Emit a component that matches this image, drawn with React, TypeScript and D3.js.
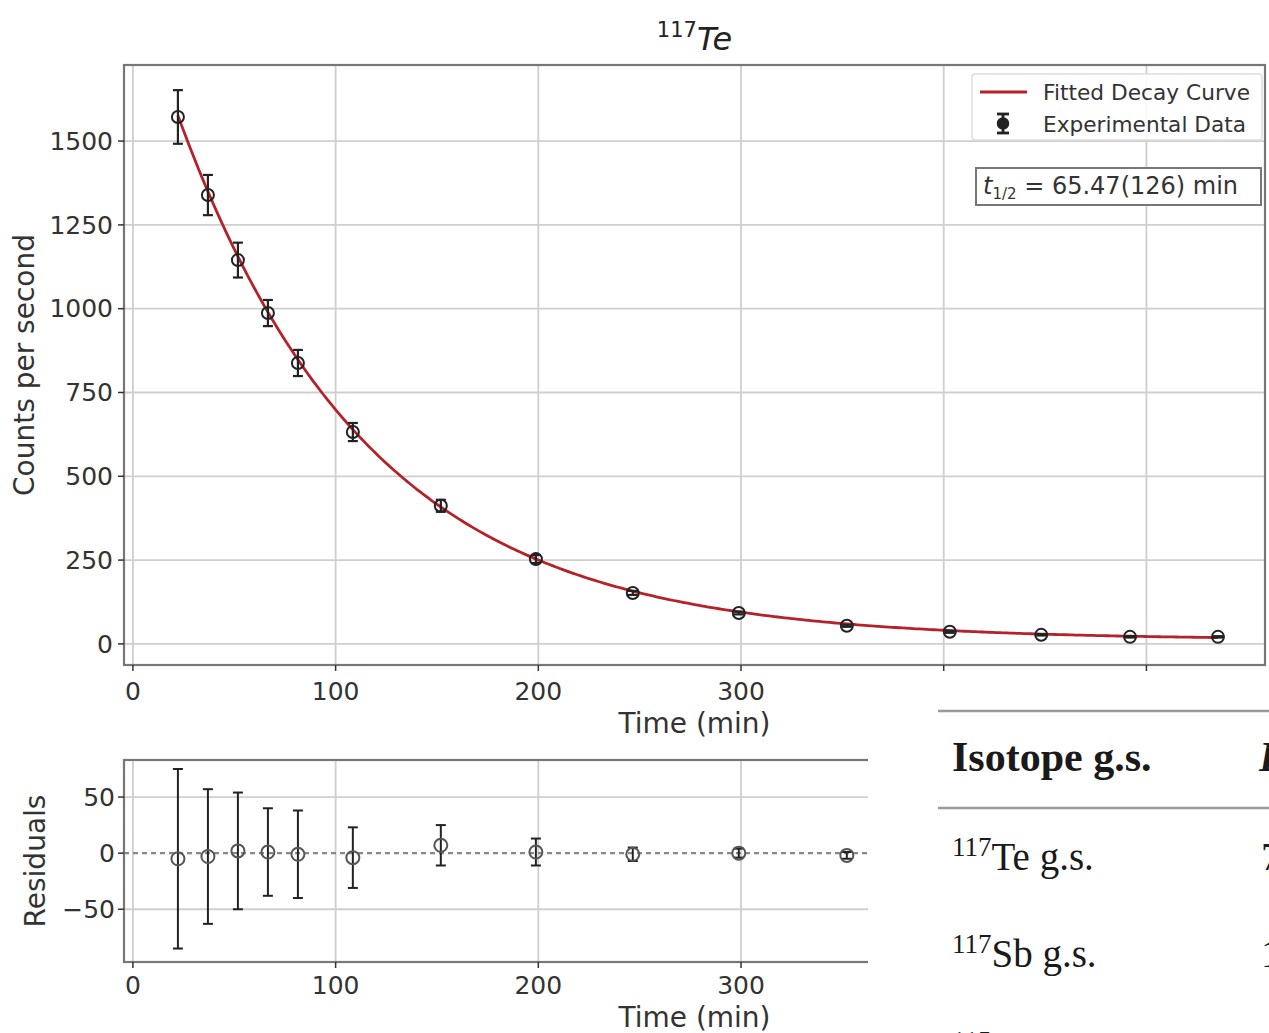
import React from 'react';
import * as d3 from 'd3';

// ---- data ----
const timeMin = [22.2, 37.0, 51.8, 66.6, 81.4, 108.5, 151.9, 198.8, 246.6, 298.9, 352.2, 403.0, 448.1, 491.9, 535.3];
const countsPerSecond = [1572, 1339, 1145, 987, 838, 632, 412, 253, 152, 92, 54, 36, 27, 21, 21];
const countErrors = [80, 60, 52, 39, 39, 27, 18, 12, 6, 4, 3, 3, 2, 2, 2];
const residuals = [-5, -3, 2, 1, -1, -4, 7, 1, -1, 0, -2, -1, 0, 1, 2];

// fitted model parameters
const halfLifeMin = 65.47;
const fitAmplitude = 1979;
const fitBackground = 12;

const countTicks = [0, 250, 500, 750, 1000, 1250, 1500];
const timeTicks = [0, 100, 200, 300, 400, 500];
const residualTicks = [-50, 0, 50];

const legendLabels = ['Fitted Decay Curve', 'Experimental Data'];
const tableHeader = 'Isotope g.s.';
const tableRows = [
  { mass: '117', sym: 'Te g.s.', next: '7' },
  { mass: '117', sym: 'Sb g.s.', next: '1' },
  { mass: '115', sym: 'Sb g.s.', next: '' },
];

const FONT = 'DejaVu Sans, sans-serif';
const SERIF = 'Liberation Serif, DejaVu Serif, serif';

export default function App() {
  const L = 124, R = 1265;
  const x = d3.scaleLinear().domain([-4.4, 558.5]).range([L, R]);
  const y = d3.scaleLinear().domain([-63, 1727]).range([665, 65]);
  const yr = d3.scaleLinear().domain([-97, 83]).range([962, 760]);

  const lambda = Math.LN2 / halfLifeMin;
  const t0 = d3.min(timeMin)!, t1 = d3.max(timeMin)!;
  const curveT = d3.range(0, 301).map(i => t0 + (t1 - t0) * i / 300);
  const line = d3.line<number>().x(t => x(t)).y(t => y(fitAmplitude * Math.exp(-lambda * t) + fitBackground));

  const gridCol = '#cfcfcf';
  const frameCol = '#777';
  const tickCol = '#333';
  const markCol = '#222';
  const red = '#b5222a';
  const cap = 5;
  const TICK = 25;
  const LABEL = 28;

  return (
    <svg width={1269} height={1033} style={{ position: 'absolute', left: 0, top: 0, background: '#fff' }}
      fontFamily={FONT}>
      <rect x={0} y={0} width={1269} height={1033} fill="#fff" />
      {/* ---------- title ---------- */}
      <text x={(L + R) / 2} y={50} textAnchor="middle" fill="#222" fontSize={32}>
        <tspan fontSize={21} dy={-13}>117</tspan>
        <tspan fontStyle="italic" dy={13}>Te</tspan>
      </text>

      {/* ---------- main axes ---------- */}
      <g>
        {timeTicks.map(t => (
          <line key={'gx' + t} x1={x(t)} x2={x(t)} y1={65} y2={665} stroke={gridCol} strokeWidth={1.8} />
        ))}
        {countTicks.map(c => (
          <line key={'gy' + c} x1={L} x2={R} y1={y(c)} y2={y(c)} stroke={gridCol} strokeWidth={1.8} />
        ))}
        <path d={line(curveT) || ''} fill="none" stroke={red} strokeWidth={2.8} />
        {timeMin.map((t, i) => {
          const cx = x(t), cy = y(countsPerSecond[i]);
          const top = y(countsPerSecond[i] + countErrors[i]);
          const bot = y(countsPerSecond[i] - countErrors[i]);
          return (
            <g key={'p' + i} stroke={markCol}>
              <line x1={cx} x2={cx} y1={top} y2={bot} strokeWidth={2.2} />
              <line x1={cx - cap} x2={cx + cap} y1={top} y2={top} strokeWidth={2.2} />
              <line x1={cx - cap} x2={cx + cap} y1={bot} y2={bot} strokeWidth={2.2} />
              <circle cx={cx} cy={cy} r={6} fill="none" strokeWidth={2} />
            </g>
          );
        })}
        <rect x={L} y={65} width={R - L} height={600} fill="none" stroke={frameCol} strokeWidth={2.2} />
        {countTicks.map(c => (
          <g key={'ty' + c}>
            <line x1={L - 6} x2={L} y1={y(c)} y2={y(c)} stroke={tickCol} strokeWidth={1.5} />
            <text x={L - 11} y={y(c)} dy="0.35em" textAnchor="end" fontSize={TICK} fill={tickCol}>{c}</text>
          </g>
        ))}
        {timeTicks.map(t => (
          <g key={'tx' + t}>
            <line x1={x(t)} x2={x(t)} y1={665} y2={671} stroke={tickCol} strokeWidth={1.5} />
            <text x={x(t)} y={700} textAnchor="middle" fontSize={TICK} fill={tickCol}>{t}</text>
          </g>
        ))}
        <text x={(L + R) / 2} y={733} textAnchor="middle" fontSize={LABEL} fill={tickCol}>Time (min)</text>
        <text transform={`translate(34, ${(65 + 665) / 2}) rotate(-90)`} textAnchor="middle" fontSize={LABEL} fill={tickCol}>Counts per second</text>

        {/* legend */}
        <rect x={972} y={74} width={290} height={66} fill="#fff" fillOpacity={0.85} stroke="#ddd" strokeWidth={1.5} rx={3} />
        <line x1={980} x2={1027} y1={92} y2={92} stroke={red} strokeWidth={2.8} />
        <g stroke={markCol}>
          <line x1={1003} x2={1003} y1={114} y2={133} strokeWidth={2.8} />
          <line x1={997} x2={1009} y1={114} y2={114} strokeWidth={2.8} />
          <line x1={997} x2={1009} y1={133} y2={133} strokeWidth={2.8} />
          <circle cx={1003} cy={123.5} r={5.5} fill={markCol} strokeWidth={1.5} />
        </g>
        <text x={1043} y={92} dy="0.35em" fontSize={21.5} fill="#333" textLength={207} lengthAdjust="spacingAndGlyphs">{legendLabels[0]}</text>
        <text x={1043} y={124} dy="0.35em" fontSize={21.5} fill="#333" textLength={203} lengthAdjust="spacingAndGlyphs">{legendLabels[1]}</text>

        {/* half-life box */}
        <rect x={976} y={168} width={285} height={37} fill="#fff" stroke="#777" strokeWidth={2} />
        <text x={983} y={186} dy="0.35em" fontSize={24} fill="#333">
          <tspan fontStyle="italic">t</tspan>
          <tspan fontSize={15} dy={5}>1/2</tspan>
          <tspan dy={-5}>{` = ${halfLifeMin}(126) min`}</tspan>
        </text>
      </g>

      {/* ---------- residual axes ---------- */}
      <g>
        {timeTicks.map(t => (
          <line key={'rgx' + t} x1={x(t)} x2={x(t)} y1={760} y2={962} stroke={gridCol} strokeWidth={1.8} />
        ))}
        {residualTicks.filter(v => v !== 0).map(v => (
          <line key={'rgy' + v} x1={L} x2={R} y1={yr(v)} y2={yr(v)} stroke={gridCol} strokeWidth={1.8} />
        ))}
        <line x1={L} x2={R} y1={yr(0)} y2={yr(0)} stroke="#888" strokeWidth={2.2} strokeDasharray="5,4" />
        {timeMin.map((t, i) => {
          const cx = x(t), cy = yr(residuals[i]);
          const top = yr(residuals[i] + countErrors[i]);
          const bot = yr(residuals[i] - countErrors[i]);
          return (
            <g key={'r' + i} stroke={markCol}>
              <line x1={cx} x2={cx} y1={top} y2={bot} strokeWidth={2} />
              <line x1={cx - cap} x2={cx + cap} y1={top} y2={top} strokeWidth={2} />
              <line x1={cx - cap} x2={cx + cap} y1={bot} y2={bot} strokeWidth={2} />
              <circle cx={cx} cy={cy} r={6.5} fill="none" stroke="#555" strokeWidth={2} />
            </g>
          );
        })}
        <rect x={L} y={760} width={R - L} height={202} fill="none" stroke={frameCol} strokeWidth={2.2} />
        {residualTicks.map(v => (
          <g key={'rty' + v}>
            <line x1={L - 6} x2={L} y1={yr(v)} y2={yr(v)} stroke={tickCol} strokeWidth={1.5} />
            <text x={L - 9} y={yr(v)} dy="0.35em" textAnchor="end" fontSize={TICK} fill={tickCol}>{v < 0 ? '\u2212' + Math.abs(v) : v}</text>
          </g>
        ))}
        {timeTicks.map(t => (
          <g key={'rtx' + t}>
            <line x1={x(t)} x2={x(t)} y1={962} y2={968} stroke={tickCol} strokeWidth={1.5} />
            <text x={x(t)} y={994} textAnchor="middle" fontSize={TICK} fill={tickCol}>{t}</text>
          </g>
        ))}
        <text x={(L + R) / 2} y={1027} textAnchor="middle" fontSize={LABEL} fill={tickCol}>Time (min)</text>
        <text transform={`translate(45, ${(760 + 962) / 2}) rotate(-90)`} textAnchor="middle" fontSize={LABEL} fill={tickCol}>Residuals</text>
      </g>

      {/* ---------- overlapping table ---------- */}
      <rect x={868} y={673} width={401} height={360} fill="#fff" />
      <g fontFamily={SERIF} fill="#1a1a1a">
        <line x1={938} x2={1269} y1={711} y2={711} stroke="#999" strokeWidth={2.5} />
        <text x={952} y={771} fontSize={42} fontWeight="bold">{tableHeader}</text>
        <text x={1259} y={771} fontSize={42} fontWeight="bold" fontStyle="italic">E</text>
        <line x1={938} x2={1269} y1={808} y2={808} stroke="#999" strokeWidth={2.5} />
        {tableRows.map((r, i) => (
          <g key={'tr' + i}>
            <text x={952} y={870 + i * 97} fontSize={39}>
              <tspan fontSize={27} dy={-14}>{r.mass}</tspan>
              <tspan dy={14}>{r.sym}</tspan>
            </text>
            <text x={1261} y={870 + i * 97} fontSize={39}>{r.next}</text>
          </g>
        ))}
      </g>
    </svg>
  );
}
